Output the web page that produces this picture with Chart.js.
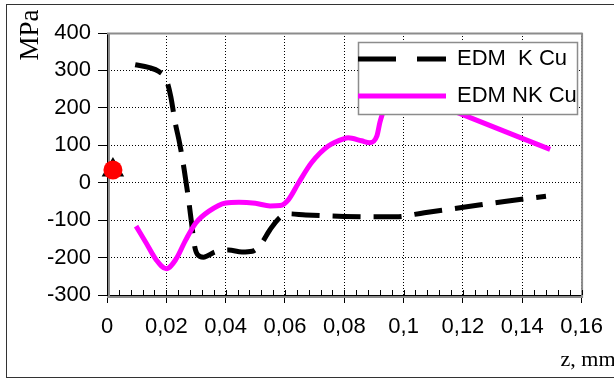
<!DOCTYPE html>
<html>
<head>
<meta charset="utf-8">
<script src="https://cdn.jsdelivr.net/npm/chart.js@4/dist/chart.umd.min.js"></script>
<style>
html,body{margin:0;padding:0;background:#fff;}
#wrap{width:614px;height:379px;position:relative;}
</style>
</head>
<body>
<div id="wrap"><canvas id="c" width="614" height="379"></canvas></div>
<script>
// ---- data ----
const seriesNames = ['EDM  K Cu', 'EDM NK Cu'];

const kCuZ   = [0.0095, 0.014, 0.0175, 0.020, 0.0215, 0.023, 0.0245, 0.026, 0.0275, 0.0285, 0.0295, 0.0305, 0.0325, 0.0365, 0.041, 0.0455, 0.049, 0.052, 0.055, 0.058, 0.061, 0.067, 0.080, 0.095, 0.0975, 0.107, 0.119, 0.134, 0.148];
const kCuMPa = [315, 308, 297, 275, 230, 160, 105, 36, -45, -107, -168, -192, -199, -185, -180, -185, -183, -163, -125, -95, -83, -86, -90, -91, -91, -80, -67, -50, -36];

const nkCuZ   = [0.0098, 0.0132, 0.0165, 0.020, 0.0232, 0.0266, 0.030, 0.0344, 0.040, 0.0445, 0.050, 0.055, 0.0584, 0.0612, 0.0646, 0.069, 0.0746, 0.080, 0.0813, 0.0858, 0.0886, 0.091, 0.092, 0.093, 0.095, 0.100, 0.118, 0.1494];
const nkCuMPa = [-116, -161, -205, -230, -205, -152, -107, -76, -54, -52, -55, -62, -61, -45, 0, 54, 98, 118, 120, 112, 107, 125, 161, 188, 235, 245, 188, 89];

const markerZ   = [0.002];
const markerMPa = [34];

const xTickValues = [0, 0.02, 0.04, 0.06, 0.08, 0.1, 0.12, 0.14, 0.16];
const xTickLabels = ['0', '0,02', '0,04', '0,06', '0,08', '0,1', '0,12', '0,14', '0,16'];
const yTickValues = [-300, -200, -100, 0, 100, 200, 300, 400];
const yTickLabels = ['-300', '-200', '-100', '0', '100', '200', '300', '400'];
const minorStep = 0.004;
const xTitle = 'z, mm';
const yTitle = 'MPa';

const toPts = (xs, ys) => xs.map((x, i) => ({x: x, y: ys[i]}));

const SANS = 'Liberation Sans';
const SERIF = 'Liberation Serif';

const decor = {
  id: 'decor',
  beforeDraw(chart) {
    const ctx = chart.ctx;
    ctx.save();
    ctx.strokeStyle = '#333';
    ctx.lineWidth = 1;
    ctx.strokeRect(6.5, 4.5, 700, 373);
    ctx.restore();
  },
  afterLayout(chart) {
    // place the legend box inside the plot (top right)
    const a = chart.chartArea;
    const lg = chart.legend;
    if (lg) {
      lg.left = a.left + 236; lg.top = a.top;
      lg.right = a.right; lg.bottom = a.top + 120;
      lg.width = lg.right - lg.left; lg.height = lg.bottom - lg.top;
    }
    // shift axis titles to their places
    const shifts = {x: [34, 0], y: [0, -129]};
    for (const id of ['x', 'y']) {
      const s = chart.scales[id];
      if (s && !s._shiftPatched) {
        const orig = s.drawTitle;
        s.drawTitle = function () {
          const c = this.ctx; c.save(); c.translate(shifts[id][0], shifts[id][1]);
          orig.apply(this, arguments); c.restore();
        };
        s._shiftPatched = true;
      }
    }
  },
  beforeDatasetsDraw(chart) {
    const ctx = chart.ctx, a = chart.chartArea;
    ctx.save();
    ctx.strokeStyle = '#8c8c8c';
    ctx.lineWidth = 2;
    ctx.beginPath();
    ctx.moveTo(a.left, a.top + 0.5); ctx.lineTo(a.right + 1, a.top + 0.5);
    ctx.moveTo(a.right + 0.5, a.top); ctx.lineTo(a.right + 0.5, a.bottom + 3);
    ctx.moveTo(a.left, a.bottom + 2); ctx.lineTo(a.right + 1, a.bottom + 2);
    ctx.moveTo(a.left + 2, a.top); ctx.lineTo(a.left + 2, a.bottom + 3);
    ctx.stroke();
    // minor inward ticks on the x axis
    const xs = chart.scales.x;
    ctx.strokeStyle = '#000';
    ctx.lineWidth = 1;
    ctx.beginPath();
    const n = Math.round((xs.max - xs.min) / minorStep);
    for (let k = 0; k <= n; k++) {
      const px = Math.round(xs.getPixelForValue(xs.min + k * minorStep)) + 0.5;
      ctx.moveTo(px, a.bottom); ctx.lineTo(px, a.bottom - 5);
    }
    ctx.stroke();
    ctx.restore();
  },
  afterDatasetsDraw(chart) {
    const ctx = chart.ctx, a = chart.chartArea;
    const bx = a.left + 251, by = a.top + 9, bw = 219, bh = 72;
    ctx.save();
    ctx.fillStyle = '#fff';
    ctx.fillRect(bx, by, bw, bh);
    ctx.strokeStyle = '#8c8c8c';
    ctx.lineWidth = 1.5;
    ctx.strokeRect(bx + 0.5, by + 0.5, bw, bh);
    ctx.restore();
    if (chart.legend) chart.legend.draw();
  }
};

new Chart(document.getElementById('c'), {
  type: 'line',
  data: {
    datasets: [
      {
        label: seriesNames[0],
        data: toPts(kCuZ, kCuMPa),
        borderColor: '#000',
        backgroundColor: '#000',
        borderWidth: 5,
        borderDash: [28, 13],
        pointRadius: 0,
        cubicInterpolationMode: 'monotone',
        fill: false,
        order: 2
      },
      {
        label: seriesNames[1],
        data: toPts(nkCuZ, nkCuMPa),
        borderColor: '#ff00ff',
        backgroundColor: '#ff00ff',
        borderWidth: 5,
        pointRadius: 0,
        cubicInterpolationMode: 'monotone',
        fill: false,
        order: 1
      },
      {
        label: 'marker-triangle',
        data: toPts(markerZ, markerMPa),
        showLine: false,
        pointStyle: 'triangle',
        pointRadius: 13,
        pointBackgroundColor: '#000',
        pointBorderWidth: 0,
        clip: false,
        order: 0.5
      },
      {
        label: 'marker-circle',
        data: toPts(markerZ, markerMPa),
        showLine: false,
        pointStyle: 'circle',
        pointRadius: 9.5,
        pointBackgroundColor: '#ff0000',
        pointBorderWidth: 0,
        clip: false,
        order: 0
      }
    ]
  },
  options: {
    responsive: false,
    devicePixelRatio: 1,
    animation: false,
    events: [],
    layout: { padding: { left: 0, top: 33, right: 31, bottom: 0 } },
    scales: {
      x: {
        type: 'linear',
        min: 0, max: 0.16,
        afterFit: (s) => { s.height = 84; },
        afterBuildTicks: (s) => { s.ticks = xTickValues.map(v => ({value: v})); },
        ticks: {
          callback: (v, i) => xTickLabels[i],
          font: { family: SANS, size: 22 },
          color: '#000',
          padding: 11,
          maxRotation: 0,
          autoSkip: false
        },
        grid: { color: '#000', lineWidth: 1, tickLength: 8, tickColor: '#000', tickWidth: 1 },
        border: { display: true, color: '#000', width: 1, dash: [1, 2] },
        title: {
          display: true, text: xTitle, align: 'end', color: '#000',
          font: { family: SERIF, size: 22 },
          padding: { top: 0, bottom: 6 }
        }
      },
      y: {
        type: 'linear',
        min: -300, max: 400,
        afterFit: (s) => { s.width = 107; },
        afterBuildTicks: (s) => { s.ticks = yTickValues.map(v => ({value: v})); },
        ticks: {
          callback: (v, i) => yTickLabels[i],
          font: { family: SANS, size: 22 },
          color: '#000',
          padding: 7,
          autoSkip: false
        },
        grid: { color: '#000', lineWidth: 1, tickLength: 9, tickColor: '#000', tickWidth: 1 },
        border: { display: true, color: '#000', width: 1, dash: [1, 2] },
        title: {
          display: true, text: yTitle, color: '#000',
          font: { family: SERIF, size: 27 },
          padding: { top: 15, bottom: 0 }
        }
      }
    },
    plugins: {
      tooltip: { enabled: false },
      legend: {
        display: true,
        position: 'chartArea',
        align: 'start',
        labels: {
          font: { family: SANS, size: 22 },
          color: '#000',
          usePointStyle: true,
          pointStyle: 'line',
          pointStyleWidth: 88,
          boxHeight: 22,
          padding: 15,
          filter: (item) => item.datasetIndex < 2,
          sort: (a, b) => a.datasetIndex - b.datasetIndex,
          generateLabels: (chart) => {
            const items = Chart.defaults.plugins.legend.labels.generateLabels(chart);
            items.forEach(it => {
              if (it.datasetIndex === 0) it.lineDash = [38, 21];
              it.lineCap = 'butt';
            });
            return items;
          }
        }
      }
    }
  },
  plugins: [decor]
});
</script>
</body>
</html>
